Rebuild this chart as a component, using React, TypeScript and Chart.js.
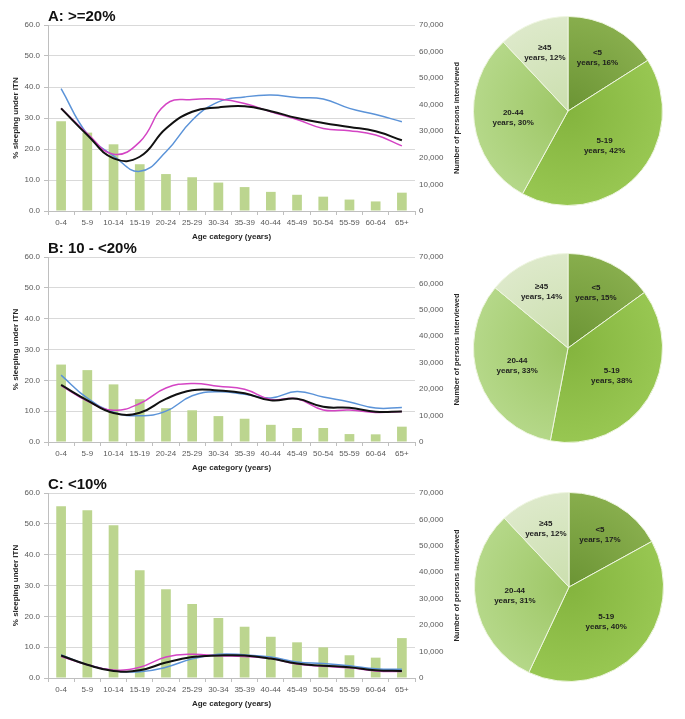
import React, { useEffect, useRef } from 'react';
import { Chart, registerables } from 'chart.js';

Chart.register(...registerables);

const FONT = "'Liberation Sans', Arial, sans-serif";

const ageGroups = ['0-4', '5-9', '10-14', '15-19', '20-24', '25-29', '30-34', '35-39', '40-44', '45-49', '50-54', '55-59', '60-64', '65+'];

// Panel A: >=20%
const personsA = [33800, 29500, 25100, 17600, 13900, 12700, 10700, 9000, 7200, 6100, 5400, 4300, 3600, 6900];
const blueA = [39.5, 24.8, 17.8, 12.8, 19.1, 29.3, 35.2, 36.8, 37.4, 36.6, 36.1, 33.1, 31.1, 28.8];
const blackA = [33.1, 24.5, 17.0, 17.5, 26.6, 32.0, 33.4, 33.8, 32.2, 30.0, 28.4, 27.1, 25.7, 22.8];
const magentaA = [33.1, 25.0, 18.3, 22.3, 34.5, 36.0, 36.1, 34.7, 32.0, 29.5, 26.6, 25.9, 24.5, 21.0];

// Panel B: 10 - <20%
const personsB = [29300, 27200, 21800, 16200, 12800, 12000, 9800, 8800, 6500, 5300, 5300, 3000, 2900, 5800];
const blueB = [21.7, 14.2, 9.7, 8.5, 10.0, 15.0, 16.3, 15.5, 14.3, 16.4, 14.6, 13.0, 11.0, 11.2];
const blackB = [18.5, 13.5, 9.4, 9.5, 14.0, 16.8, 16.7, 15.8, 13.5, 14.0, 11.4, 11.1, 9.8, 9.9];
const magentaB = [18.3, 13.3, 10.3, 12.5, 17.5, 19.0, 18.1, 17.1, 13.8, 14.0, 10.4, 10.4, 9.6, 9.9];

// Panel C: <10%
const personsC = [65000, 63500, 57800, 40800, 33600, 28000, 22700, 19400, 15600, 13500, 11600, 8600, 7700, 15100];
const blueC = [7.5, 4.3, 2.4, 2.0, 3.5, 6.2, 7.7, 7.5, 6.8, 5.2, 4.7, 4.0, 3.0, 2.8];
const blackC = [7.3, 4.3, 2.3, 2.5, 5.0, 6.8, 7.3, 7.3, 6.3, 4.7, 4.0, 3.5, 2.5, 2.3];
const magentaC = [7.0, 4.3, 2.6, 3.5, 6.8, 7.7, 7.2, 7.0, 6.3, 4.5, 3.8, 3.3, 2.3, 2.1];

// Pie charts: share of persons by age band
const pieLabels = ['<5', '5-19', '20-44', '\u226545'];
const pieA = [16, 42, 30, 12];
const pieB = [15, 38, 33, 14];
const pieC = [17, 40, 31, 12];

const pieInner = ['#6b9434', '#84b43e', '#9dc665', '#cbdfae'];
const pieOuter = ['#88ae4d', '#98c752', '#b5d889', '#dde9ca'];

const rightTitlePlugin = {
  id: 'rightTitle',
  afterDraw(chart: any) {
    const { ctx, chartArea } = chart;
    ctx.save();
    ctx.translate(chart.width - 13, (chartArea.top + chartArea.bottom) / 2);
    ctx.rotate(-Math.PI / 2);
    ctx.font = `bold 7.5px ${FONT}`;
    ctx.fillStyle = '#262626';
    ctx.textAlign = 'center';
    ctx.textBaseline = 'middle';
    ctx.fillText('Number of persons interviewed', 0, 0);
    ctx.restore();
  },
};

const pieLabelPlugin = {
  id: 'pieLabels',
  afterDatasetsDraw(chart: any) {
    const { ctx } = chart;
    const meta = chart.getDatasetMeta(0);
    const data = chart.data.datasets[0].data as number[];
    const total = data.reduce((a, b) => a + b, 0);
    ctx.save();
    ctx.font = `bold 8px ${FONT}`;
    ctx.fillStyle = '#1e1e1e';
    ctx.textAlign = 'center';
    ctx.textBaseline = 'middle';
    meta.data.forEach((arc: any, i: number) => {
      const { x, y, startAngle, endAngle, outerRadius } = arc.getProps(['x', 'y', 'startAngle', 'endAngle', 'outerRadius'], true);
      const mid = (startAngle + endAngle) / 2;
      const frac = data[i] / total;
      const f = 0.72 - 0.45 * frac;
      const px = x + Math.cos(mid) * outerRadius * f;
      const py = y + Math.sin(mid) * outerRadius * f;
      ctx.fillText(chart.data.labels[i], px, py - 5);
      ctx.fillText(`years, ${data[i]}%`, px, py + 5);
    });
    ctx.restore();
  },
};

function ComboChart(props: { top: number; height: number; plotTop: number; persons: number[]; blue: number[]; black: number[]; magenta: number[] }) {
  const ref = useRef<HTMLCanvasElement>(null);
  const { top, height, plotTop, persons, blue, black, magenta } = props;
  useEffect(() => {
    const tickFont = { size: 8, family: FONT };
    const titleFont = { size: 8, family: FONT, weight: 'bold' as const };
    const line = (data: number[], color: string, width: number, order: number) => ({
      type: 'line' as const,
      data,
      borderColor: color,
      backgroundColor: color,
      borderWidth: width,
      pointRadius: 0,
      tension: 0.45,
      fill: false,
      yAxisID: 'y',
      order,
    });
    const chart = new Chart(ref.current!, {
      type: 'bar',
      data: {
        labels: ageGroups,
        datasets: [
          line(black, '#111111', 2, 1),
          line(magenta, '#d444c4', 1.5, 2),
          line(blue, '#5b93d8', 1.5, 3),
          {
            type: 'bar' as const,
            data: persons,
            backgroundColor: '#bcd58f',
            yAxisID: 'y1',
            order: 10,
            barPercentage: 0.37,
            categoryPercentage: 1,
          } as any,
        ],
      },
      options: {
        responsive: false,
        animation: false,
        layout: { padding: { top: plotTop, left: 0, right: 0, bottom: 0 } },
        plugins: { legend: { display: false }, tooltip: { enabled: false } },
        scales: {
          x: {
            offset: true,
            grid: { offset: true, drawOnChartArea: false, drawTicks: true, tickLength: 4, color: '#bfbfbf' },
            border: { color: '#bfbfbf' },
            ticks: { font: tickFont, color: '#595959', maxRotation: 0, minRotation: 0, autoSkip: false, padding: 3 },
            title: { display: true, text: 'Age category (years)', font: titleFont, color: '#262626', padding: { top: 0, bottom: 3 } },
            afterFit: (s: any) => { s.height = 34; },
          },
          y: {
            position: 'left',
            min: 0,
            max: 60,
            ticks: { stepSize: 10, font: tickFont, color: '#595959', padding: 4, callback: (v: any) => Number(v).toFixed(1) },
            grid: { color: '#d9d9d9', tickColor: '#bfbfbf', tickLength: 4 },
            border: { color: '#bfbfbf' },
            title: { display: true, text: '% sleeping under ITN', font: titleFont, color: '#262626', padding: { top: 11, bottom: 0 } },
            afterFit: (s: any) => { s.width = 48; },
          },
          y1: {
            position: 'right',
            min: 0,
            max: 70000,
            ticks: { stepSize: 10000, font: tickFont, color: '#595959', padding: 4, callback: (v: any) => Number(v).toLocaleString('en-US') },
            grid: { drawOnChartArea: false, drawTicks: false },
            border: { display: false },
            afterFit: (s: any) => { s.width = 55; },
          },
        },
      } as any,
      plugins: [rightTitlePlugin],
    });
    return () => chart.destroy();
  }, []);
  return <canvas ref={ref} width={470} height={height} style={{ position: 'absolute', left: 0, top, width: 470, height }} />;
}

function PieChart(props: { left: number; top: number; values: number[] }) {
  const ref = useRef<HTMLCanvasElement>(null);
  const { left, top, values } = props;
  useEffect(() => {
    const fill = (c: any) => {
      const chart = c.chart;
      const area = chart.chartArea;
      const i = c.dataIndex ?? 0;
      if (!area) return pieOuter[i];
      const cx = (area.left + area.right) / 2;
      const cy = (area.top + area.bottom) / 2;
      const r = Math.min(area.right - area.left, area.bottom - area.top) / 2;
      const g = chart.ctx.createRadialGradient(cx, cy, 0, cx, cy, r);
      g.addColorStop(0, pieInner[i]);
      g.addColorStop(1, pieOuter[i]);
      return g;
    };
    const chart = new Chart(ref.current!, {
      type: 'pie',
      data: {
        labels: pieLabels,
        datasets: [{ data: values, backgroundColor: fill, borderColor: '#eef5e0', borderWidth: 1, hoverOffset: 0 }],
      },
      options: {
        responsive: false,
        animation: false,
        layout: { padding: 5 },
        plugins: { legend: { display: false }, tooltip: { enabled: false } },
      } as any,
      plugins: [pieLabelPlugin],
    });
    return () => chart.destroy();
  }, []);
  return <canvas ref={ref} width={200} height={200} style={{ position: 'absolute', left, top, width: 200, height: 200 }} />;
}

const titleStyle = (top: number): React.CSSProperties => ({
  position: 'absolute',
  left: 48,
  top,
  font: `bold 15px ${FONT}`,
  lineHeight: '15px',
  color: '#111',
  whiteSpace: 'nowrap',
});

export default function App() {
  return (
    <div style={{ position: 'absolute', left: 0, top: 0, width: 685, height: 719, background: '#fff', overflow: 'hidden' }}>
      <ComboChart top={0} height={245} plotTop={25} persons={personsA} blue={blueA} black={blackA} magenta={magentaA} />
      <ComboChart top={230} height={246} plotTop={27} persons={personsB} blue={blueB} black={blackB} magenta={magentaB} />
      <ComboChart top={470} height={242} plotTop={23} persons={personsC} blue={blueC} black={blackC} magenta={magentaC} />
      <div style={titleStyle(8)}>A: &gt;=20%</div>
      <div style={titleStyle(240)}>B: 10 - &lt;20%</div>
      <div style={titleStyle(476)}>C: &lt;10%</div>
      <PieChart left={468} top={11} values={pieA} />
      <PieChart left={468} top={248} values={pieB} />
      <PieChart left={469} top={487} values={pieC} />
    </div>
  );
}
